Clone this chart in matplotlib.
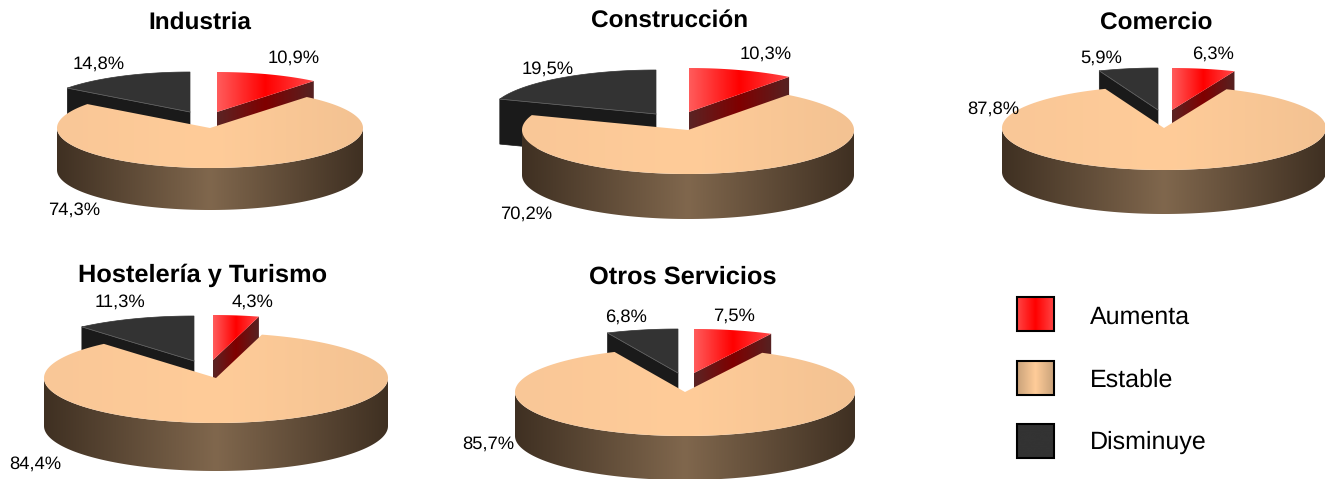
import numpy as np
import matplotlib
matplotlib.use("Agg")
import matplotlib.pyplot as plt
from matplotlib.colors import LinearSegmentedColormap
from matplotlib.patches import Polygon, Rectangle

plt.rcParams['font.family'] = ['Liberation Sans', 'DejaVu Sans']
plt.rcParams['text.hinting'] = 'none'

# datos
sectores = ['Industria', 'Construcción', 'Comercio', 'Hostelería y Turismo', 'Otros Servicios']
aumenta = [10.9, 10.3, 6.3, 4.3, 7.5]
estable = [74.3, 70.2, 87.8, 84.4, 85.7]
disminuye = [14.8, 19.5, 5.9, 11.3, 6.8]
leyenda = ['Aumenta', 'Estable', 'Disminuye']

# geometria en pixeles: cx, cy, rx, ry, alto, centro rojo (x, y), centro oscuro (x, y)
pies = [
    (210, 128, 153, 40, 42, (217, 112), (190, 112)),
    (688, 130, 166, 44, 45, (689, 112), (656, 114)),
    (1164, 128, 162, 42, 44, (1172, 110), (1158, 110)),
    (216, 378, 172, 45, 48, (213, 360), (194, 361)),
    (685, 392, 170, 44, 44, (694, 373), (678, 373)),
]
titulos_xy = [(200, 23), (670, 21), (1156, 23), (203, 275), (683, 277)]
titulos_pt = [17.6, 17.6, 17.6, 18.3, 18.3]
rojo_xy = [(294, 58), (766, 54), (1213, 54), (253, 302), (734, 316)]
beige_xy = [(74, 210), (526, 214), (993, 109), (35, 464), (488, 444)]
oscuro_xy = [(99, 64), (548, 69), (1101, 58), (120, 302), (626, 317)]

ROJO_TOP = ['#ff5c5c', '#ff0000', '#ff4a4a']
ROJO_LADO = ['#5a2424', '#800000', '#552222']
BEIGE_TOP = ['#f9c797', '#ffcc99', '#f3c292']
BEIGE_LADO = ['#3f3022', '#80674d', '#3f3022']


def gradiente(ax, verts, colores, x0=None, x1=None):
    verts = np.array(verts)
    x0 = verts[:, 0].min() if x0 is None else x0
    x1 = verts[:, 0].max() if x1 is None else x1
    cmap = LinearSegmentedColormap.from_list('g', colores)
    img = np.linspace(0, 1, 256).reshape(1, -1)
    im = ax.imshow(img, cmap=cmap, extent=(x0, x1, verts[:, 1].max(), verts[:, 1].min()),
                   aspect='auto', interpolation='bilinear', zorder=ax.zz)
    im.set_clip_path(Polygon(verts, closed=True, transform=ax.transData))
    ax.zz += 1


def arco(cx, cy, rx, ry, a0, a1):
    # angulos en grados, sentido horario desde arriba
    t = np.radians(np.linspace(a0, a1, 200))
    return np.column_stack([cx + rx * np.sin(t), cy - ry * np.cos(t)])


def plano(ax, verts, color):
    ax.add_patch(Polygon(verts, closed=True, facecolor=color, edgecolor=color, lw=0.5, zorder=ax.zz))
    ax.zz += 1


def etiqueta(ax, xy, v):
    ax.text(xy[0], xy[1], f"{v:.1f}".replace('.', ',') + '%', fontsize=13.2,
            ha='center', va='center', color='black', zorder=500)


def tarta(ax, i):
    cx, cy, rx, ry, h, cr, co = pies[i]
    total = aumenta[i] + estable[i] + disminuye[i]
    a_rojo = 360 * aumenta[i] / total
    a_osc = 360 * disminuye[i] / total

    # porcion oscura
    top = arco(co[0], co[1], rx, ry, 360 - a_osc, 360)
    tip = np.array(co, dtype=float)
    plano(ax, [tip, top[0], top[0] + [0, h], tip + [0, h]], '#1a1a1a')
    plano(ax, np.vstack([top, tip]), '#333333')
    ax.plot([tip[0], top[0, 0]], [tip[1], top[0, 1]], color='#6a6a6a', lw=0.5, zorder=ax.zz)
    ax.zz += 1

    # porcion roja
    top = arco(cr[0], cr[1], rx, ry, 0, a_rojo)
    tip = np.array(cr, dtype=float)
    gradiente(ax, [tip, top[-1], top[-1] + [0, h], tip + [0, h]], ROJO_LADO)
    gradiente(ax, np.vstack([top, tip]), ROJO_TOP)

    # porcion beige
    frente = arco(cx, cy, rx, ry, 90, 270)
    lado = np.vstack([frente, frente[::-1] + [0, h]])
    gradiente(ax, lado, BEIGE_LADO)
    top = arco(cx, cy, rx, ry, a_rojo, 360 - a_osc)
    gradiente(ax, np.vstack([top, [cx, cy]]), BEIGE_TOP, cx - rx, cx + rx)

    ax.text(titulos_xy[i][0], titulos_xy[i][1], sectores[i], fontsize=titulos_pt[i], fontweight='bold',
            ha='center', va='center', zorder=500)
    etiqueta(ax, rojo_xy[i], aumenta[i])
    etiqueta(ax, beige_xy[i], estable[i])
    etiqueta(ax, oscuro_xy[i], disminuye[i])


def main():
    fig = plt.figure(figsize=(13.25, 4.79), dpi=100)
    ax = fig.add_axes([0, 0, 1, 1])
    ax.zz = 1
    for i in range(len(sectores)):
        tarta(ax, i)

    # leyenda
    cajas = [(297, 317, ['#ff4545', '#ff0000', '#ff4545']),
             (361, 380, ['#c9a27a', '#ffcc99', '#c9a27a']),
             (424, 442, ['#333333', '#333333', '#333333'])]
    for (y, y_txt, colores), nombre in zip(cajas, leyenda):
        gradiente(ax, [(1017, y), (1054, y), (1054, y + 34), (1017, y + 34)], colores)
        ax.add_patch(Rectangle((1017, y), 37, 34, fill=False, edgecolor='black', lw=1.5, zorder=400))
        ax.text(1090, y_txt, nombre, fontsize=18, ha='left', va='center', zorder=500)

    ax.set_xlim(0, 1325)
    ax.set_ylim(479, 0)
    ax.axis('off')
    fig.savefig('out.png', dpi=100)


if __name__ == "__main__":
    main()
